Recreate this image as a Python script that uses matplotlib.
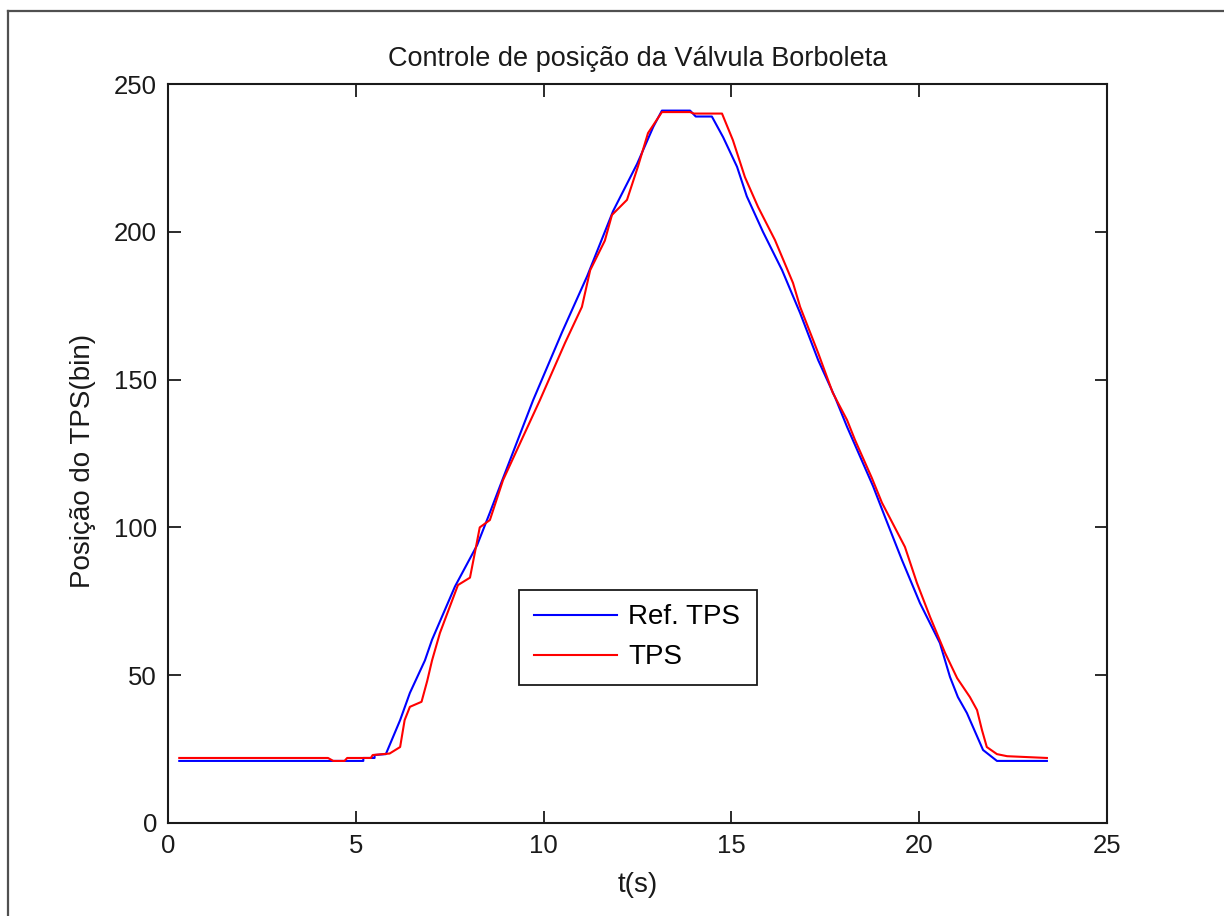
import matplotlib
matplotlib.use("Agg")
import matplotlib.pyplot as plt
from matplotlib.lines import Line2D

# Reference throttle position (TPS setpoint) over time
ref_t = [0.3, 5.2, 5.2, 5.5, 5.5, 5.8, 6.18, 6.44, 6.84, 7.03,
         7.64, 8.23, 8.57, 8.84, 9.72, 10.49, 11.16, 11.85, 12.49, 12.92,
         13.15, 13.9, 14.05, 14.48, 14.78, 15.15, 15.41, 15.84, 16.35, 16.83,
         17.31, 17.76, 18.08, 18.77, 19.09, 19.54, 20.02, 20.55, 20.82, 21.03,
         21.27, 21.7, 22.07, 23.4]
ref_y = [21, 21, 22, 22, 23, 23.3, 34.8, 44, 55, 62,
         80, 94, 105, 114, 143, 166, 185, 207, 223, 235.5,
         241, 241, 239, 239, 232, 222, 212, 200, 187, 172.5,
         156.6, 144, 134, 114, 103.5, 89, 74.4, 60.9, 49.4, 42.6,
         37.2, 24.7, 21, 21]

# Measured throttle position (TPS)
tps_t = [0.3, 4.26, 4.4, 4.7, 4.77, 5.4, 5.45, 5.9, 6.18, 6.3,
         6.44, 6.75, 6.9, 7.03, 7.24, 7.72, 8.04, 8.2, 8.3, 8.57,
         8.92, 9.9, 10.57, 11.02, 11.24, 11.63, 11.82, 12.22, 12.51, 12.78,
         13.15, 13.9, 14.0, 14.75, 15.04, 15.36, 15.71, 16.16, 16.64, 16.83,
         17.31, 17.7, 18.08, 18.29, 18.74, 19.01, 19.62, 19.94, 20.29, 20.69,
         21.01, 21.35, 21.54, 21.67, 21.8, 22.07, 22.34, 23.4]
tps_y = [22, 22, 21, 21, 22, 22, 23, 23.5, 25.7, 34.8,
         39.3, 41, 48, 55, 64.3, 80.5, 83, 93.4, 100, 102.5,
         116, 143, 162.4, 174.6, 187, 197, 205.7, 210.8, 222, 233.4,
         240.5, 240.5, 240, 240, 231, 218.5, 208.4, 197.2, 182.7, 174.6,
         159, 145.5, 136.3, 129.6, 116.7, 108.3, 93.4, 81.2, 69.7, 57.5,
         49, 42.6, 38.2, 31.5, 25.7, 23.3, 22.6, 22]

x_ticks = [0, 5, 10, 15, 20, 25]
y_ticks = [0, 50, 100, 150, 200, 250]

plt.rcParams['font.family'] = ['Liberation Sans', 'DejaVu Sans']

fig = plt.figure(figsize=(12.24, 9.16), dpi=100)
fig.patch.set_facecolor('white')

# window frame lines (top and left)
fig.add_artist(Line2D([8/1224, 1.0], [1 - 11/916, 1 - 11/916],
                      transform=fig.transFigure, color='#505050', lw=1.6))
fig.add_artist(Line2D([8/1224, 8/1224], [0.0, 1 - 11/916],
                      transform=fig.transFigure, color='#505050', lw=1.6))

ax = fig.add_axes([168/1224, 1 - 823/916, (1107 - 168)/1224, (823 - 84)/916])

ax.plot(ref_t, ref_y, color='#0000ff', lw=1.5, label='Ref. TPS')
ax.plot(tps_t, tps_y, color='#ff0000', lw=1.5, label='TPS')

ax.set_xlim(0, 25)
ax.set_ylim(0, 250)
ax.set_xticks(x_ticks)
ax.set_yticks(y_ticks)
ax.tick_params(direction='in', length=9, width=1.3, top=True, right=True,
               labelsize=18.5, pad=8, colors='#1a1a1a')
for s in ax.spines.values():
    s.set_linewidth(1.5)
    s.set_color('#1a1a1a')

ax.set_title('Controle de posição da Válvula Borboleta', fontsize=19.5, pad=13,
             color='#1a1a1a')
ax.set_xlabel('t(s)', fontsize=20, color='#1a1a1a')
ax.set_ylabel('Posição do TPS(bin)', fontsize=20, color='#1a1a1a')
ax.xaxis.set_label_coords(0.5, -0.084)
ax.yaxis.set_label_coords(-0.0905, 0.49)
ax.xaxis.label.set_va('center')
ax.yaxis.label.set_va('center')

leg = ax.legend(loc='lower left', bbox_to_anchor=(0.374, 0.187, 0.2535, 0.127),
                mode='expand', borderaxespad=0, fontsize=20, fancybox=False,
                handlelength=3.0, handletextpad=0.4, labelspacing=0.5,
                borderpad=0.52, framealpha=1)
leg.get_frame().set_edgecolor('#1a1a1a')
leg.get_frame().set_linewidth(1.3)

fig.savefig('out.png', dpi=100, facecolor='white')
